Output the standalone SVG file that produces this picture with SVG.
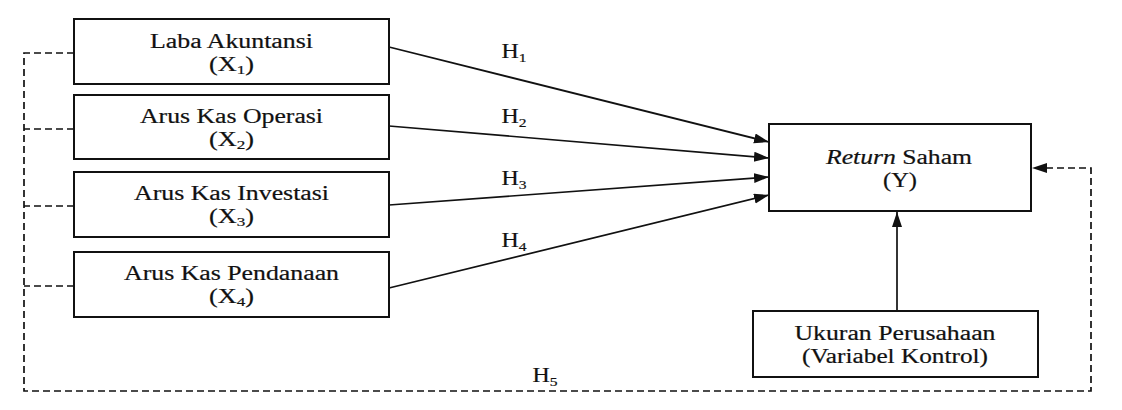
<svg xmlns="http://www.w3.org/2000/svg" width="1122" height="410" viewBox="0 0 1122 410">
<style>
.box{fill:#fff;stroke:#111;stroke-width:2}
.t{font-family:'Liberation Serif','Times New Roman',serif;font-size:20px;fill:#111;stroke:#111;stroke-width:0.2;text-anchor:middle}
.ln{fill:none;stroke:#111;stroke-width:1.7}
.dash{fill:none;stroke:#111;stroke-width:1.7;stroke-dasharray:7 4}
</style>
<defs>
<marker id="ah" markerUnits="userSpaceOnUse" markerWidth="16" markerHeight="12" refX="15" refY="5" orient="auto">
<path d="M0,0 L15,5 L0,10 Z" fill="#111"/>
</marker>
</defs>
<rect width="1122" height="410" fill="#fff"/>
<g id="connectors">
<line class="ln" x1="389" y1="47" x2="769" y2="142" marker-end="url(#ah)"/>
<line class="ln" x1="389" y1="126" x2="769" y2="158" marker-end="url(#ah)"/>
<line class="ln" x1="389" y1="205" x2="769" y2="177" marker-end="url(#ah)"/>
<line class="ln" x1="389" y1="288" x2="769" y2="195" marker-end="url(#ah)"/>
<line class="ln" x1="897" y1="311" x2="897" y2="212" marker-end="url(#ah)"/>
<polyline class="dash" points="74,53 24,53 24,391 1091,391 1091,168 1032,168" marker-end="url(#ah)"/>
<line class="dash" x1="74" y1="129" x2="24" y2="129"/>
<line class="dash" x1="74" y1="206" x2="24" y2="206"/>
<line class="dash" x1="74" y1="286" x2="24" y2="286"/>
<text class="t" x="514" y="58" textLength="25" lengthAdjust="spacingAndGlyphs">H<tspan font-size="13" dy="4">1</tspan></text>
<text class="t" x="514" y="123" textLength="25" lengthAdjust="spacingAndGlyphs">H<tspan font-size="13" dy="4">2</tspan></text>
<text class="t" x="514" y="185" textLength="25" lengthAdjust="spacingAndGlyphs">H<tspan font-size="13" dy="4">3</tspan></text>
<text class="t" x="514" y="247" textLength="25" lengthAdjust="spacingAndGlyphs">H<tspan font-size="13" dy="4">4</tspan></text>
<text class="t" x="545" y="382" textLength="25" lengthAdjust="spacingAndGlyphs">H<tspan font-size="13" dy="4">5</tspan></text>
</g>
<g id="x1">
<rect class="box" x="74" y="19" width="315" height="65"/>
<text class="t" x="231.5" y="48" textLength="163" lengthAdjust="spacingAndGlyphs">Laba Akuntansi</text>
<text class="t" x="231.5" y="71" textLength="45" lengthAdjust="spacingAndGlyphs">(X<tspan font-size="13" dy="3">1</tspan><tspan dy="-3">)</tspan></text>
</g>
<g id="x2">
<rect class="box" x="74" y="95" width="315" height="64"/>
<text class="t" x="231.5" y="123" textLength="183" lengthAdjust="spacingAndGlyphs">Arus Kas Operasi</text>
<text class="t" x="231.5" y="146" textLength="45" lengthAdjust="spacingAndGlyphs">(X<tspan font-size="13" dy="3">2</tspan><tspan dy="-3">)</tspan></text>
</g>
<g id="x3">
<rect class="box" x="74" y="172" width="315" height="65"/>
<text class="t" x="231.5" y="200" textLength="195" lengthAdjust="spacingAndGlyphs">Arus Kas Investasi</text>
<text class="t" x="231.5" y="223" textLength="45" lengthAdjust="spacingAndGlyphs">(X<tspan font-size="13" dy="3">3</tspan><tspan dy="-3">)</tspan></text>
</g>
<g id="x4">
<rect class="box" x="74" y="252" width="315" height="65"/>
<text class="t" x="231.5" y="280" textLength="215" lengthAdjust="spacingAndGlyphs">Arus Kas Pendanaan</text>
<text class="t" x="231.5" y="303" textLength="45" lengthAdjust="spacingAndGlyphs">(X<tspan font-size="13" dy="3">4</tspan><tspan dy="-3">)</tspan></text>
</g>
<g id="y">
<rect class="box" x="769" y="124" width="262" height="87"/>
<text class="t" x="899" y="164" textLength="146" lengthAdjust="spacingAndGlyphs"><tspan font-style="italic">Return</tspan> Saham</text>
<text class="t" x="900" y="187" textLength="34" lengthAdjust="spacingAndGlyphs">(Y)</text>
</g>
<g id="control">
<rect class="box" x="753" y="311" width="285" height="66"/>
<text class="t" x="895" y="340" textLength="201" lengthAdjust="spacingAndGlyphs">Ukuran Perusahaan</text>
<text class="t" x="895" y="363" textLength="186" lengthAdjust="spacingAndGlyphs">(Variabel Kontrol)</text>
</g>
</svg>
